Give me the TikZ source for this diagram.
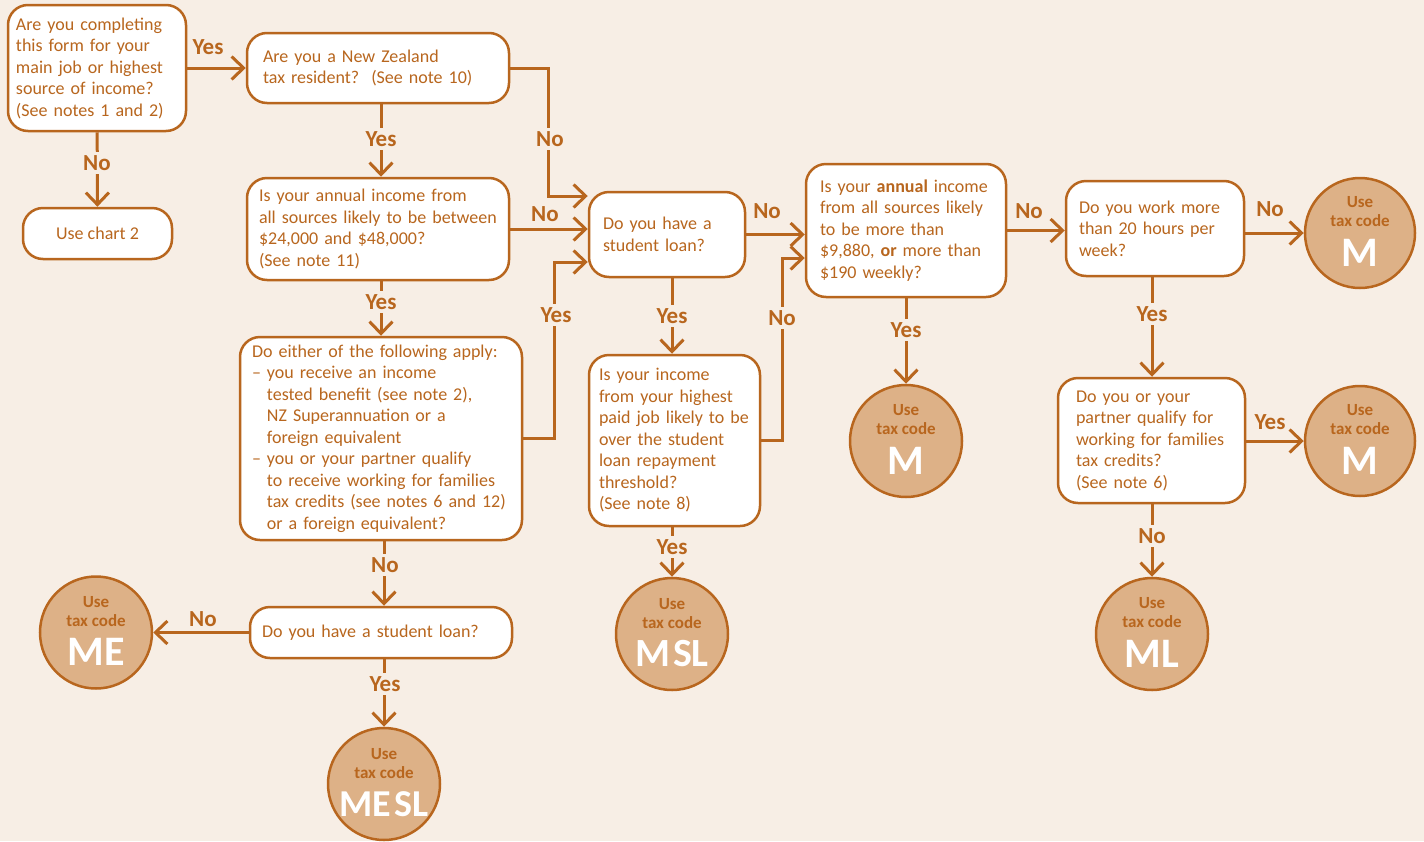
\documentclass[tikz,border=0pt]{standalone}
\usepackage{fontspec}
\setmainfont{Carlito}
\usetikzlibrary{arrows.meta}
\definecolor{bg}{HTML}{F7EEE5}
\definecolor{orn}{HTML}{B8661E}
\definecolor{cf}{HTML}{DDB187}
\newcommand{\codetxt}[2][42]{\raisebox{-4.5pt}[0pt][0pt]{\makebox[0pt]{\begin{tabular}{@{}c@{}}%
 \fontsize{17}{19}\selectfont\bfseries\color{orn}Use\\
 \fontsize{17}{19}\selectfont\bfseries\color{orn}tax code\\[7pt]
 \fontsize{#1}{42}\selectfont\bfseries\color{white}#2\end{tabular}}}}
\begin{document}
\begin{tikzpicture}[x=1pt,y=-1pt,
 box/.style={draw=orn, line width=2.5pt, fill=white, rounded corners=20pt, align=left, text=orn,
   font=\fontsize{18}{21.5}\selectfont, inner ysep=2pt},
 taxcircle/.style={circle, draw=orn, line width=2.5pt, fill=cf, minimum size=112pt, inner sep=0pt,
   font=\fontsize{17}{19}\selectfont\bfseries},
 conn/.style={draw=orn, line width=3pt, -{Straight Barb[length=12pt,width=23pt,line width=3pt]}},
 lab/.style={text=orn, fill=bg, font=\fontsize{23}{26}\selectfont\bfseries, inner xsep=1pt, inner ysep=3pt}
]
\fill[bg] (0,0) rectangle (1424,841);
\useasboundingbox (0,0) rectangle (1424,841);

% boxes
\node[box, minimum width=178pt, minimum height=126pt, text width=162pt, inner xsep=8pt] (q1) at (97,68)
 {Are you completing\\this form for your\\main job or highest\\source of income?\\(See notes 1 and 2)};
\node[box, minimum width=262pt, minimum height=70pt, text width=230pt, inner xsep=16pt] (q2) at (378,68)
 {Are you a New Zealand\\tax resident?\ \ (See note 10)};
\node[box, minimum width=149pt, minimum height=51pt, align=center] (c2) at (97.5,233.5) {Use chart 2};
\node[box, minimum width=262pt, minimum height=102pt, text width=238pt, inner xsep=12pt] (q3) at (378,229)
 {Is your annual income from\\all sources likely to be between\\\$24,000 and \$48,000?\\(See note 11)};
\node[box, minimum width=282pt, minimum height=203pt, text width=258pt, inner xsep=12pt] (q4) at (381,438.5)
 {Do either of the following apply:\\
 – you receive an income\\
 \hphantom{– }tested benefit (see note 2),\\
 \hphantom{– }NZ Superannuation or a\\
 \hphantom{– }foreign equivalent\\
 – you or your partner qualify\\
 \hphantom{– }to receive working for families\\
 \hphantom{– }tax credits (see notes 6 and 12)\\
 \hphantom{– }or a foreign equivalent?};
\node[box, minimum width=262pt, minimum height=51pt, text width=238pt, inner xsep=12pt] (q5) at (381,632.5)
 {Do you have a student loan?};
\node[box, minimum width=156pt, minimum height=85pt, text width=128pt, inner xsep=14pt] (q6) at (667,234.5)
 {Do you have a\\student loan?};
\node[box, minimum width=171pt, minimum height=171pt, text width=151pt, inner xsep=10pt] (q7) at (674.5,440.5)
 {Is your income\\from your highest\\paid job likely to be\\over the student\\loan repayment\\threshold?\\(See note 8)};
\node[box, minimum width=200pt, minimum height=133pt, text width=172pt, inner xsep=14pt] (q8) at (906,230.5)
 {Is your \textbf{annual} income\\from all sources likely\\to be more than\\\$9,880, \textbf{or} more than\\\$190 weekly?};
\node[box, minimum width=178pt, minimum height=95pt, text width=152pt, inner xsep=13pt] (q9) at (1155,228.5)
 {Do you work more\\than 20 hours per\\week?};
\node[box, minimum width=187pt, minimum height=125pt, text width=151pt, inner xsep=18pt] (q10) at (1151.5,440.5)
 {Do you or your\\partner qualify for\\working for families\\tax credits?\\(See note 6)};

% circles
\node[taxcircle] (me) at (96,632.5) {\codetxt{ME}};
\node[taxcircle] (mesl) at (384,784) {\codetxt[38]{ME\kern3pt SL}};
\node[taxcircle] (msl) at (672,634) {\codetxt[40]{M\kern3pt SL}};
\node[taxcircle] (mc) at (906,441) {\codetxt{M}};
\node[taxcircle, minimum size=110pt] (mt) at (1360,233) {\codetxt{M}};
\node[taxcircle, minimum size=110pt] (mm) at (1360,441) {\codetxt{M}};
\node[taxcircle] (ml) at (1152,634) {\codetxt{ML}};

% bend points
\coordinate (b3) at (548,196);
\coordinate (b1) at (554,262);
\coordinate (b2) at (782,258);

% connectors
\draw[conn] (q1) -- (q2);
\draw[conn] (q1) -- (c2);
\draw[conn] (q2.south -| 381,0) -- (q3.north -| 381,0);
\draw[conn] (q2.east) -| (b3) -- (q6.west |- b3);
\draw[conn] (q3.east) -- (q6.west |- q3.east);
\draw[conn] (q3.south -| 381,0) -- (q4.north -| 381,0);
\draw[conn] (q4.east) -| (b1) -- (q6.west |- b1);
\draw[conn] (q4.south -| mesl.north) -- (q5.north -| mesl.north);
\draw[conn] (q5.west) -- (me.east |- q5.west);
\draw[conn] (q5.south -| mesl.north) -- (mesl.north);
\draw[conn] (q6.east) -- (q8.west |- q6.east);
\draw[conn] (q6.south -| msl.north) -- (q7.north -| msl.north);
\draw[conn] (q7.east) -| (b2) -- (q8.west |- b2);
\draw[conn] (q7.south -| msl.north) -- (msl.north);
\draw[conn] (q8.east) -- (q9.west |- q8.east);
\draw[conn] (q8) -- (mc);
\draw[conn] (q9.east |- mt) -- (mt.west);
\draw[conn] (q9.south -| ml.north) -- (q10.north -| ml.north);
\draw[conn] (q10.east |- mm) -- (mm.west);
\draw[conn] (q10.south -| ml.north) -- (ml.north);

% labels
\node[lab] (l1) at (208,47) {Yes};
\node[lab] (l2) at (97,163) {No};
\node[lab] (l3) at (381,139) {Yes};
\node[lab] (l4) at (550,139) {No};
\node[lab] (l5) at (545,214) {No};
\node[lab] (l6) at (381,302) {Yes};
\node[lab] (l7) at (556,315) {Yes};
\node[lab] (l8) at (385,565) {No};
\node[lab] (l9) at (203,619) {No};
\node[lab] (l10) at (385,684) {Yes};
\node[lab] (l11) at (767,211) {No};
\node[lab] (l12) at (672,316) {Yes};
\node[lab] (l13) at (782,318) {No};
\node[lab] (l14) at (672,547) {Yes};
\node[lab] (l15) at (1029,211) {No};
\node[lab] (l16) at (906,330) {Yes};
\node[lab] (l17) at (1270,209) {No};
\node[lab] (l18) at (1152,314) {Yes};
\node[lab] (l19) at (1270,422) {Yes};
\node[lab] (l20) at (1152,536) {No};
\end{tikzpicture}
\end{document}
